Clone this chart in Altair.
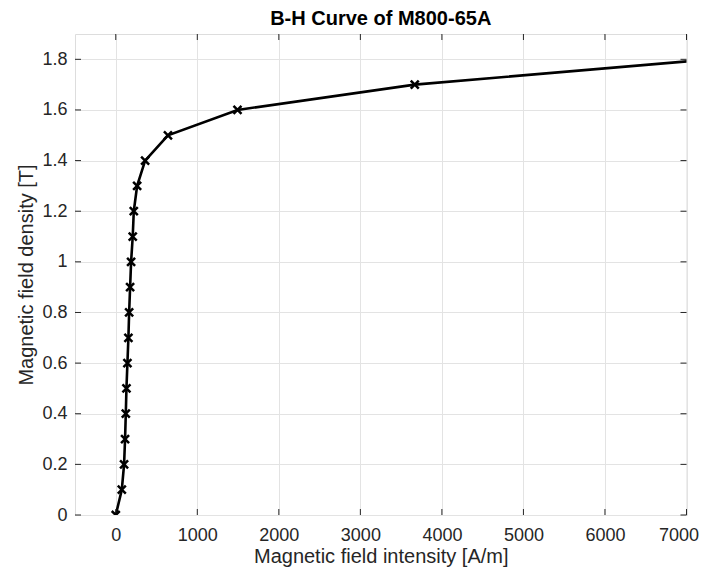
import altair as alt
import pandas as pd

# ---- data ----
title_text = "B-H Curve of M800-65A"
x_title = "Magnetic field intensity [A/m]"
y_title = "Magnetic field density [T]"

H_values = [0, 74, 102, 114, 123, 131, 143, 155, 164, 176, 188, 208, 221, 262, 360, 640, 1493, 3667, 7300]
B_values = [0.0, 0.1, 0.2, 0.3, 0.4, 0.5, 0.6, 0.7, 0.8, 0.9, 1.0, 1.1, 1.2, 1.3, 1.4, 1.5, 1.6, 1.7, 1.8]

x_ticks = [0, 1000, 2000, 3000, 4000, 5000, 6000, 7000]
y_ticks = [0, 0.2, 0.4, 0.6, 0.8, 1.0, 1.2, 1.4, 1.6, 1.8]
x_domain = [-500, 7000]
y_domain = [0, 1.9]

# ---- styling ----
W, HT = 611.5, 481
FONT = "Liberation Sans"
INK = "#262626"
GRID = "#e3e3e3"
TICK = 6

curve = pd.DataFrame({"H": H_values, "B": B_values})
xt = pd.DataFrame({"H": x_ticks})
yt = pd.DataFrame({"B": y_ticks})

xs = alt.Scale(domain=x_domain, nice=False, zero=False)
ys = alt.Scale(domain=y_domain, nice=False, zero=False)

x_axis = alt.Axis(
    values=x_ticks, format="d", grid=True, gridColor=GRID, gridWidth=1,
    ticks=False, domain=False, labelFlush=True, labelFlushOffset=12,
    labelOverlap=False,
    labelFont=FONT, labelFontSize=18, labelColor=INK,
    labelPadding=25, labelBaseline="alphabetic",
    title=x_title, titleFont=FONT, titleFontSize=20, titleFontWeight="normal",
    titleColor=INK, titleX=W / 2, titleY=47, titleBaseline="alphabetic",
    titleAlign="center",
)
y_axis = alt.Axis(
    values=y_ticks, format="~g", grid=True, gridColor=GRID, gridWidth=1,
    ticks=False, domain=False, labelFlush=False, labelOverlap=False,
    labelFont=FONT, labelFontSize=18, labelColor=INK, labelPadding=8,
    title=y_title, titleFont=FONT, titleFontSize=20, titleFontWeight="normal",
    titleColor=INK, titleX=-43, titleY=HT / 2, titleBaseline="alphabetic",
    titleAlign="center", titleAngle=-90,
)

X = alt.X("H:Q", scale=xs, axis=x_axis)
Y = alt.Y("B:Q", scale=ys, axis=y_axis)

line = alt.Chart(curve).mark_line(color="black", strokeWidth=2.6, clip=True).encode(x=X, y=Y)
points = alt.Chart(curve).mark_point(
    shape="M-1,-1L1,1M-1,1L1,-1", size=64, color="black",
    strokeWidth=2.5, filled=False, opacity=1, clip=True,
).encode(x=X, y=Y)

tick_bottom = alt.Chart(xt).mark_rule(color=INK, strokeWidth=1).encode(
    x=X, y=alt.value(HT), y2=alt.value(HT - TICK)
)
tick_top = alt.Chart(xt).mark_rule(color=INK, strokeWidth=1).encode(
    x=X, y=alt.value(0), y2=alt.value(TICK)
)
tick_left = alt.Chart(yt).mark_rule(color=INK, strokeWidth=1).encode(
    y=Y, x=alt.value(0), x2=alt.value(TICK)
)
tick_right = alt.Chart(yt).mark_rule(color=INK, strokeWidth=1).encode(
    y=Y, x=alt.value(W), x2=alt.value(W - TICK)
)

chart = alt.layer(
    line, tick_bottom, tick_top, tick_left, tick_right, points
).properties(
    width=W, height=HT,
    title=alt.TitleParams(
        title_text, font=FONT, fontSize=20, fontWeight="bold", color="#000000",
        anchor="middle", offset=5,
    ),
    autosize=alt.AutoSizeParams(type="none"),
    padding={"left": 67, "top": 26, "right": 12, "bottom": 52},
).configure_view(
    stroke=INK, strokeWidth=1
).configure(background="white")

chart.save("out.html", embed_options={"renderer": "svg", "actions": False})
